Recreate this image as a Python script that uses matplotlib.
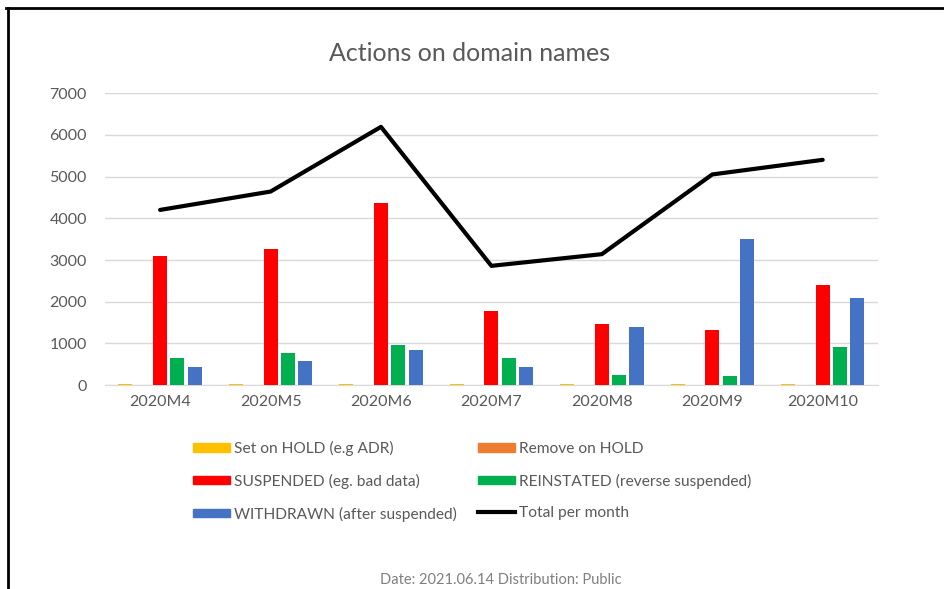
import matplotlib
matplotlib.use("Agg")
import matplotlib.pyplot as plt
import numpy as np
from matplotlib.patches import Patch
from matplotlib.lines import Line2D

categories = ["2020M4", "2020M5", "2020M6", "2020M7", "2020M8", "2020M9", "2020M10"]
set_on_hold = [20, 20, 20, 20, 20, 20, 20]
remove_on_hold = [0, 0, 0, 0, 0, 0, 0]
suspended = [3100, 3260, 4370, 1780, 1465, 1320, 2400]
reinstated = [640, 775, 960, 645, 255, 225, 920]
withdrawn = [440, 585, 840, 440, 1385, 3495, 2080]
total = [4200, 4640, 6190, 2860, 3140, 5050, 5400]

series = [
    ("Set on HOLD (e.g ADR)", set_on_hold, "#FFC000"),
    ("Remove on HOLD", remove_on_hold, "#ED7D31"),
    ("SUSPENDED (eg. bad data)", suspended, "#FF0000"),
    ("REINSTATED (reverse suspended)", reinstated, "#00B050"),
    ("WITHDRAWN (after suspended)", withdrawn, "#4472C4"),
]

FONT = ["Lato", "DejaVu Sans"]
plt.rcParams["font.family"] = FONT
TXT = "#595959"

fig = plt.figure(figsize=(9.45, 5.89), dpi=100)
ax = fig.add_axes([0.111, 0.346, 0.818, 0.496])

x = np.arange(len(categories))
slot = 0.157
bw = 0.127
for i, (name, vals, col) in enumerate(series):
    ax.bar(x + (i - 2) * slot, vals, width=bw, color=col, linewidth=0, zorder=3)
ax.plot(x, total, color="black", linewidth=3, zorder=4, solid_capstyle="round")

ax.set_xlim(-0.5, len(categories) - 0.5)
ax.set_ylim(0, 7000)
ax.set_yticks(np.arange(0, 7001, 1000))
ax.set_xticks(x)
ax.set_xticklabels(categories)
ax.grid(axis="y", color="#D9D9D9", linewidth=1, zorder=0)
for s in ["top", "right", "left"]:
    ax.spines[s].set_visible(False)
ax.spines["bottom"].set_color("#D9D9D9")
ax.tick_params(axis="both", length=0, labelsize=11.5, labelcolor=TXT)
ax.tick_params(axis="y", pad=13)
ax.tick_params(axis="x", pad=7)

fig.text(0.497, 0.91, "Actions on domain names", ha="center", va="center",
         fontsize=18, color=TXT)

handles = [
    Patch(color=series[0][2]), Patch(color=series[2][2]), Patch(color=series[4][2]),
    Patch(color=series[1][2]), Patch(color=series[3][2]),
    Line2D([0], [0], color="black", linewidth=3),
]
labels = [series[0][0], series[2][0], series[4][0],
          series[1][0], series[3][0], "Total per month"]
leg = fig.legend(handles, labels, ncol=2, loc="upper left",
                 bbox_to_anchor=(0.204, 0.252), frameon=False,
                 fontsize=11.2, labelcolor=TXT, handlelength=2.4,
                 handleheight=0.5, handletextpad=0.25, columnspacing=1.35,
                 labelspacing=1.15, borderaxespad=0, borderpad=0)

fig.text(0.53, 0.016, "Date: 2021.06.14 Distribution: Public", ha="center",
         va="center", fontsize=10.5, color="#7F7F7F")

# outer frame lines
fig.add_artist(Line2D([0.006, 1.0], [0.986, 0.986], color="black", linewidth=2,
                      transform=fig.transFigure))
fig.add_artist(Line2D([0.0085, 0.0085], [0.0, 0.986], color="black", linewidth=2,
                      transform=fig.transFigure))

fig.savefig("out.png", dpi=100)
